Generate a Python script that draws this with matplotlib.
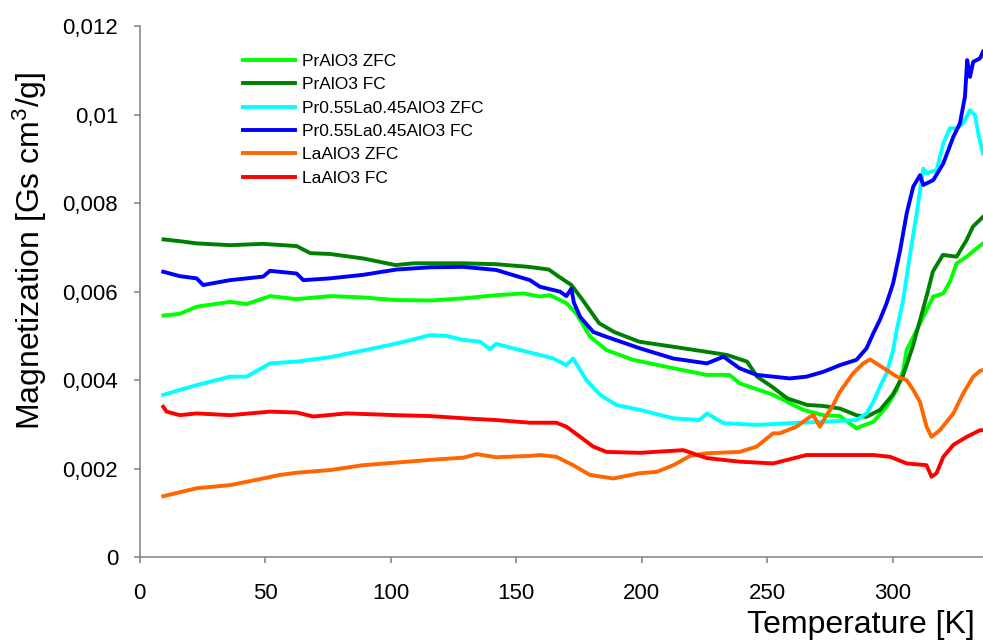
import numpy as np
import matplotlib
matplotlib.use("Agg")
import matplotlib.pyplot as plt
from matplotlib.ticker import FuncFormatter

plt.rcParams['font.family'] = ['Liberation Sans', 'DejaVu Sans']
plt.rcParams['mathtext.default'] = 'regular'

# magnetization values in units of 1e-3 Gs cm3/g, temperature in K
t_pr_zfc = [9.5, 16, 22.7, 30, 36, 42.6, 52, 62.5, 76, 89, 102, 116, 129, 142, 153, 159.5, 163.5,
            170, 174, 179.5, 186, 196.6, 212.6, 226, 235, 239, 252.4, 264.4, 272.4, 279, 285.6, 287,
            292.3, 297.6, 301.6, 304.2, 305.6, 309.6, 313.5, 316.2, 320.2, 322.8, 325.5, 329.5, 333.5, 336]
m_pr_zfc = [5.46, 5.5, 5.66, 5.72, 5.77, 5.72, 5.9, 5.83, 5.9, 5.87, 5.81, 5.8, 5.85, 5.92, 5.96, 5.89, 5.92,
            5.74, 5.5, 4.98, 4.68, 4.46, 4.27, 4.12, 4.12, 3.93, 3.67, 3.33, 3.21, 3.19, 2.91, 2.95,
            3.06, 3.4, 3.78, 4.23, 4.68, 5.13, 5.58, 5.89, 5.96, 6.22, 6.64, 6.79, 6.98, 7.09]

t_pr_fc = [9.5, 16, 22.7, 36, 49, 62.5, 68, 76, 89, 102, 109, 129, 142, 155, 163, 167, 172, 176.5, 183,
           189, 199, 212, 226, 234, 242, 246, 252, 258, 266, 272, 279, 285.5, 289.5, 295, 300, 304, 308,
           312, 314, 316, 320, 325.5, 329.5, 332, 336]
m_pr_fc = [7.18, 7.14, 7.09, 7.05, 7.08, 7.03, 6.87, 6.85, 6.75, 6.6, 6.64, 6.64, 6.62, 6.56, 6.5, 6.34, 6.15,
           5.81, 5.29, 5.09, 4.87, 4.76, 4.64, 4.57, 4.42, 4.08, 3.85, 3.59, 3.44, 3.42, 3.36, 3.21, 3.17,
           3.33, 3.67, 4.08, 4.76, 5.58, 6.0, 6.45, 6.83, 6.79, 7.17, 7.47, 7.69]

t_mix_zfc = [9.4, 22.7, 36, 42.6, 51.9, 62.5, 75.8, 89, 102.4, 109, 115.7, 122.3, 129, 135.6, 139.6, 142,
             148.8, 159.5, 164.8, 170, 172.7, 175.5, 178, 183.4, 190, 199.3, 212.6, 223, 226, 232.6, 245.8,
             259, 272.4, 285.6, 289.6, 292.3, 294.9, 297.6, 300.2, 301.6, 304.2, 307, 309.6, 312.2, 313.5,
             317.5, 320.2, 322.8, 325.5, 328.1, 330.8, 332.8, 334.1, 336]
m_mix_zfc = [3.67, 3.89, 4.08, 4.08, 4.38, 4.42, 4.52, 4.67, 4.83, 4.92, 5.02, 5.0, 4.91, 4.87, 4.7, 4.82,
             4.72, 4.57, 4.49, 4.34, 4.49, 4.23, 4.0, 3.67, 3.44, 3.33, 3.14, 3.1, 3.25, 3.03, 2.99,
             3.03, 3.06, 3.1, 3.25, 3.51, 3.85, 4.16, 4.68, 5.13, 5.81, 6.87, 7.77, 8.78, 8.67,
             8.75, 9.35, 9.69, 9.69, 9.8, 10.1, 9.99, 9.58, 9.12]

t_mix_fc = [9.4, 16, 22.7, 25.3, 36, 49.2, 51.9, 62.5, 65.2, 75.8, 89, 102.4, 115.7, 129, 142, 155.5, 159.5,
            167.5, 170, 172, 173, 175.5, 180.7, 186, 199.3, 212.6, 226, 232.6, 239, 245.8, 259, 265.7, 272.4,
            279, 285.6, 289.6, 292.3, 294.9, 297.6, 300.2, 303, 305.6, 308.2, 310.9, 312.2, 316.2, 320.2,
            324.2, 326.8, 328.8, 329.7, 330.8, 332.1, 334.8, 336]
m_mix_fc = [6.45, 6.35, 6.3, 6.15, 6.26, 6.34, 6.47, 6.41, 6.26, 6.3, 6.38, 6.5, 6.55, 6.56, 6.49, 6.26, 6.11,
            6.0, 5.9, 6.07, 5.75, 5.43, 5.09, 4.98, 4.72, 4.49, 4.38, 4.53, 4.27, 4.12, 4.04, 4.08, 4.19,
            4.34, 4.46, 4.72, 5.06, 5.36, 5.74, 6.19, 6.94, 7.77, 8.37, 8.63, 8.41, 8.52, 8.9,
            9.5, 9.8, 10.4, 11.23, 10.85, 11.19, 11.27, 11.42]

t_la_zfc = [9.4, 22.7, 36, 46.6, 55.9, 62.5, 75.8, 89, 102.4, 115.7, 129, 134.3, 142, 155.5, 159.5, 166,
            172.7, 179.4, 188.7, 199.3, 206, 212.6, 219.3, 226, 239, 245.8, 252.4, 255, 261.7, 267, 268.4,
            271, 273.7, 276.3, 279, 284.3, 288.3, 291, 297.6, 301.6, 305.6, 308.2, 310.9, 313.5, 315.5,
            318.8, 324.2, 328.1, 332.1, 334.8, 336]
m_la_zfc = [1.38, 1.56, 1.63, 1.75, 1.86, 1.91, 1.97, 2.08, 2.14, 2.2, 2.25, 2.33, 2.26, 2.29, 2.31, 2.27,
            2.08, 1.86, 1.78, 1.9, 1.93, 2.08, 2.29, 2.35, 2.38, 2.5, 2.8, 2.8, 2.95, 3.17, 3.21,
            2.95, 3.21, 3.44, 3.74, 4.16, 4.38, 4.47, 4.23, 4.08, 4.0, 3.78, 3.51, 2.95, 2.72,
            2.87, 3.25, 3.7, 4.08, 4.21, 4.23]

t_la_fc = [9.4, 10.7, 16, 22.7, 36, 51.9, 62.5, 69.2, 82.4, 102.4, 115.7, 129, 142, 155.5, 166, 170, 175.5,
           180.7, 186, 199.3, 216.6, 226, 239, 252.4, 265.7, 279, 292.3, 299, 305.6, 313.5, 315.5, 317.5,
           320.2, 324.2, 329.5, 334.8, 336]
m_la_fc = [3.4, 3.29, 3.21, 3.25, 3.21, 3.29, 3.27, 3.18, 3.25, 3.21, 3.19, 3.14, 3.1, 3.04, 3.04, 2.95, 2.72,
           2.5, 2.38, 2.36, 2.42, 2.24, 2.16, 2.12, 2.31, 2.31, 2.31, 2.27, 2.12, 2.08, 1.82, 1.9,
           2.27, 2.54, 2.72, 2.87, 2.87]

series = [
    (t_pr_zfc, m_pr_zfc, 'PrAlO3 ZFC', '#00FF00'),
    (t_pr_fc, m_pr_fc, 'PrAlO3 FC', '#008000'),
    (t_mix_zfc, m_mix_zfc, 'Pr0.55La0.45AlO3 ZFC', '#00FFFF'),
    (t_mix_fc, m_mix_fc, 'Pr0.55La0.45AlO3 FC', '#0000FF'),
    (t_la_zfc, m_la_zfc, 'LaAlO3 ZFC', '#FF6600'),
    (t_la_fc, m_la_fc, 'LaAlO3 FC', '#FF0000'),
]

fig = plt.figure(figsize=(9.83, 6.41), dpi=100)
ax = fig.add_axes([0.1421, 0.1306, 0.8579, 0.8288])

for t, m, lab, col in series:
    ax.plot(t, np.array(m) * 1e-3, color=col, lw=2.8, label=lab)

ax.set_xlim(0, 336)
ax.set_ylim(0, 0.012)
ax.set_xticks(np.arange(0, 301, 50))
ax.set_yticks(np.arange(0, 0.0121, 0.002))
ax.yaxis.set_major_formatter(FuncFormatter(lambda v, p: ('%g' % round(v, 4)).replace('.', ',')))

for s in ['top', 'right']:
    ax.spines[s].set_visible(False)
for s in ['left', 'bottom']:
    ax.spines[s].set_color('#808080')
    ax.spines[s].set_linewidth(1.1)
ax.tick_params(axis='both', direction='out', length=4.5, width=1.1, color='#808080', labelsize=16)
ax.tick_params(axis='x', pad=14)
ax.tick_params(axis='y', pad=11)

ax.set_xlabel('Temperature [K]', fontsize=23, loc='right')
ax.xaxis.set_label_coords(0.9905, -0.1)
ax.set_ylabel('Magnetization [Gs cm$^{3}$/g]', fontsize=23)
ax.yaxis.set_label_coords(-0.108, 0.5765)

leg = ax.legend(loc='upper left', bbox_to_anchor=(0.123, 0.9475), frameon=False, fontsize=12.5,
                handlelength=2.95, handletextpad=0.4, labelspacing=0.47, borderpad=0, borderaxespad=0)

fig.savefig('out.png', dpi=100)
